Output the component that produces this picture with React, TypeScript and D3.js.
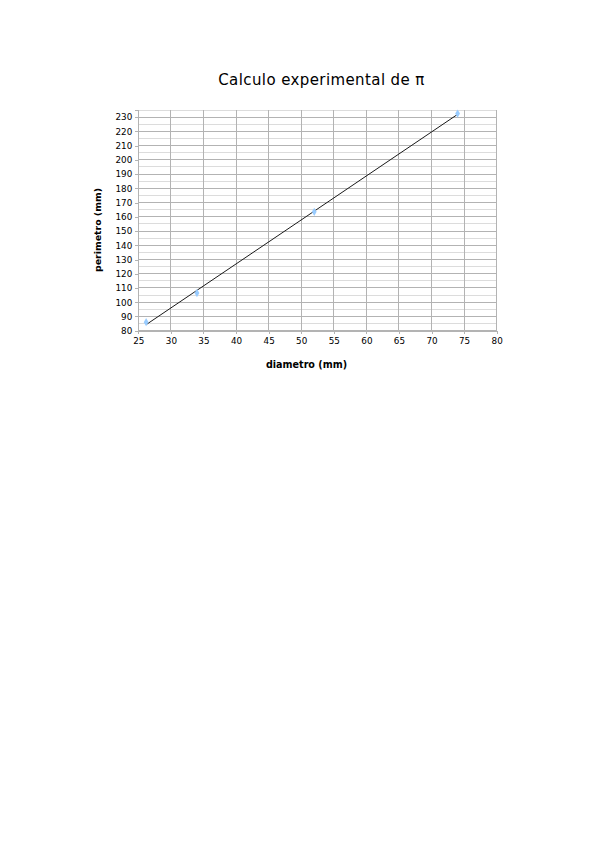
import * as d3 from "d3";
import React, { useEffect, useRef } from "react";

// measured diameters (mm) and perimeters (mm)
const DIAMETERS = [26.2, 34, 52, 74];
const PERIMETERS = [86, 106.5, 163.5, 232.5];

const X_TICKS = [25, 30, 35, 40, 45, 50, 55, 60, 65, 70, 75, 80];
const Y_TICKS = [80, 90, 100, 110, 120, 130, 140, 150, 160, 170, 180, 190, 200, 210, 220, 230];
const Y_MINOR = [85, 95, 105, 115, 125, 135, 145, 155, 165, 175, 185, 195, 205, 215, 225, 235];

const TITLE = "Calculo experimental de π";
const X_LABEL = "diametro (mm)";
const Y_LABEL = "perimetro (mm)";

const W = 599;
const H = 848;
const FONT = "DejaVu Sans, Verdana, sans-serif";

export default function App() {
  const svgRef = useRef<SVGSVGElement | null>(null);

  useEffect(() => {
    const svg = d3.select(svgRef.current);
    svg.selectAll("*").remove();

    const left = 138.3, right = 496.7, top = 110, bottom = 330.7;

    const x = d3.scaleLinear().domain([25, 80]).range([left, right]);
    const y = d3.scaleLinear().domain([80, 235]).range([bottom, top]);

    // background
    svg.append("rect").attr("width", W).attr("height", H).attr("fill", "#fff");

    // -------- grid --------
    const grid = svg.append("g").attr("shape-rendering", "crispEdges");
    grid.selectAll("line.minor")
      .data(Y_MINOR)
      .join("line")
      .attr("class", "minor")
      .attr("x1", left).attr("x2", right)
      .attr("y1", d => y(d)).attr("y2", d => y(d))
      .attr("stroke", "#dcdcdc").attr("stroke-width", 1);

    grid.selectAll("line.hmaj")
      .data(Y_TICKS)
      .join("line")
      .attr("class", "hmaj")
      .attr("x1", left).attr("x2", right)
      .attr("y1", d => y(d)).attr("y2", d => y(d))
      .attr("stroke", "#b3b3b3").attr("stroke-width", 1);

    grid.selectAll("line.vmaj")
      .data(X_TICKS)
      .join("line")
      .attr("class", "vmaj")
      .attr("x1", d => x(d)).attr("x2", d => x(d))
      .attr("y1", top).attr("y2", bottom)
      .attr("stroke", "#b3b3b3").attr("stroke-width", 1);

    // -------- axes --------
    const yAxis = d3.axisLeft(y).tickValues(Y_TICKS).tickSize(3).tickPadding(3);
    const gy = svg.append("g").attr("transform", `translate(${left},0)`).call(yAxis);
    const xAxis = d3.axisBottom(x).tickValues(X_TICKS).tickSize(3).tickPadding(4);
    const gx = svg.append("g").attr("transform", `translate(0,${bottom})`).call(xAxis);

    for (const g of [gx, gy]) {
      g.select(".domain").attr("stroke", "#b3b3b3").attr("shape-rendering", "crispEdges");
      g.selectAll(".tick line").attr("stroke", "#b3b3b3").attr("shape-rendering", "crispEdges");
      g.selectAll(".tick text")
        .attr("fill", "#000")
        .attr("font-family", FONT)
        .attr("font-size", 8.8);
    }

    // -------- trend line (least squares) --------
    const mx = d3.mean(DIAMETERS)!;
    const my = d3.mean(PERIMETERS)!;
    const sxy = d3.sum(DIAMETERS, (d, i) => (d - mx) * (PERIMETERS[i] - my));
    const sxx = d3.sum(DIAMETERS, d => (d - mx) ** 2);
    const slope = sxy / sxx;
    const icpt = my - slope * mx;
    const [x0, x1] = d3.extent(DIAMETERS) as [number, number];

    svg.append("line")
      .attr("x1", x(x0)).attr("y1", y(icpt + slope * x0))
      .attr("x2", x(x1)).attr("y2", y(icpt + slope * x1))
      .attr("stroke", "#1a1a1a").attr("stroke-width", 1);

    // -------- points --------
    const diamond = d3.symbol().type(d3.symbolDiamond).size(20);
    svg.append("g")
      .selectAll("path")
      .data(DIAMETERS.map((d, i) => [d, PERIMETERS[i]]))
      .join("path")
      .attr("d", diamond as any)
      .attr("transform", d => `translate(${x(d[0])},${y(d[1])})`)
      .attr("fill", "#99ccff");

    // -------- labels --------
    svg.append("text")
      .attr("x", 321.5).attr("y", 84.7)
      .attr("text-anchor", "middle")
      .attr("font-family", FONT)
      .attr("font-size", 15)
      .attr("letter-spacing", 0.4)
      .attr("fill", "#000")
      .text(TITLE);

    svg.append("text")
      .attr("x", 306.5).attr("y", 367.5)
      .attr("text-anchor", "middle")
      .attr("font-family", FONT)
      .attr("font-weight", "bold")
      .attr("font-size", 9.6)
      .attr("fill", "#000")
      .text(X_LABEL);

    svg.append("text")
      .attr("transform", "translate(100.5,230) rotate(-90)")
      .attr("text-anchor", "middle")
      .attr("font-family", FONT)
      .attr("font-weight", "bold")
      .attr("font-size", 9.4)
      .attr("fill", "#000")
      .text(Y_LABEL);
  }, []);

  return (
    <svg
      ref={svgRef}
      width={W}
      height={H}
      style={{ position: "absolute", left: 0, top: 0, display: "block" }}
    />
  );
}
